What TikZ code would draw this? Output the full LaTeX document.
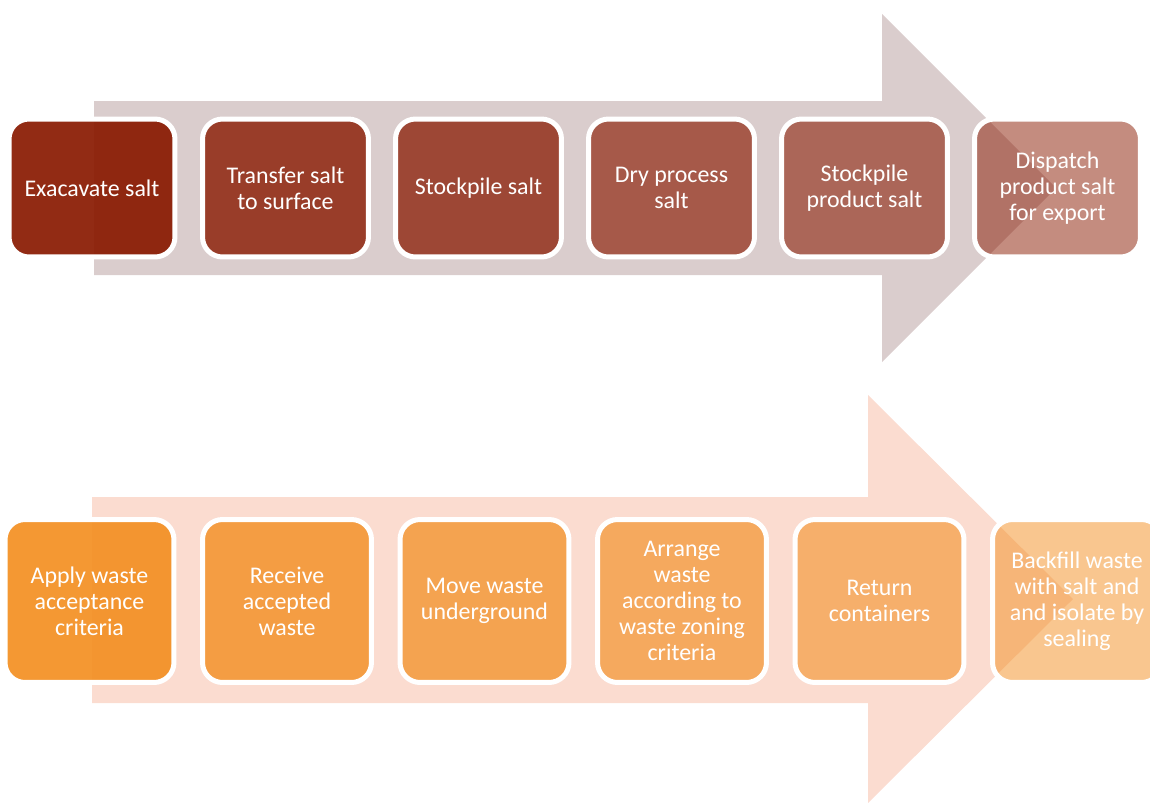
\documentclass[tikz,border=0pt]{standalone}
\usepackage{fontspec}
\setmainfont{Carlito}

\definecolor{saltbase}{RGB}{137,25,0}
\definecolor{saltarrow}{RGB}{218,205,205}
\definecolor{wastebase}{RGB}{243,146,40}
\definecolor{wastearrow}{RGB}{251,220,208}

\tikzset{
  stepbox/.style={draw=white, line width=0.1cm, rounded corners=0.4cm,
    text=white, text opacity=1, align=center,
    font=\fontsize{13.6}{14.8}\selectfont},
  saltbox/.style={stepbox, fill=saltbase, minimum width=3.32cm, minimum height=2.76cm},
  wastebox/.style={stepbox, fill=wastebase, minimum width=3.38cm, minimum height=3.26cm}
}

\begin{document}
\begin{tikzpicture}[x=0.02cm,y=-0.02cm]
\useasboundingbox (0,0) rectangle (1150,802);

% the two big arrows behind the steps
\fill[saltarrow] (94,101) -- (882,101) -- (882,14) -- (1056,188)
  -- (882,362) -- (882,275) -- (94,275) -- cycle;
\fill[wastearrow] (92,497) -- (868,497) -- (868,395) -- (1073,599)
  -- (868,803) -- (868,703) -- (92,703) -- cycle;

% salt line
\node[saltbox, fill opacity=0.92] (excavate) at (92,188) {Exacavate salt};
\node[saltbox, fill opacity=0.80] (transfer) at (285.5,188) {Transfer salt\\to surface};
\node[saltbox, fill opacity=0.74] (stockpile) at (478.5,188) {Stockpile salt};
\node[saltbox, fill opacity=0.64] (dry) at (671.5,188) {Dry process\\salt};
\node[saltbox, fill opacity=0.57] (product) at (864.5,188) {Stockpile\\product salt};
\node[saltbox, fill opacity=0.50] (dispatch) at (1057.5,188) {Dispatch\\product salt\\for export};

% waste line
\node[wastebox, fill opacity=0.95] (accept) at (89.5,601) {Apply waste\\acceptance\\criteria};
\node[wastebox, fill opacity=0.84] (receive) at (287,601) {Receive\\accepted\\waste};
\node[wastebox, fill opacity=0.76] (move) at (484.5,601) {Move waste\\underground};
\node[wastebox, fill opacity=0.68] (arrange) at (682,601) {Arrange\\waste\\according to\\waste zoning\\criteria};
\node[wastebox, fill opacity=0.60] (return) at (879.5,601) {Return\\containers};
\node[wastebox, fill opacity=0.52] (backfill) at (1077,601) {Backfill waste\\with salt and\\and isolate by\\sealing};
\end{tikzpicture}
\end{document}
